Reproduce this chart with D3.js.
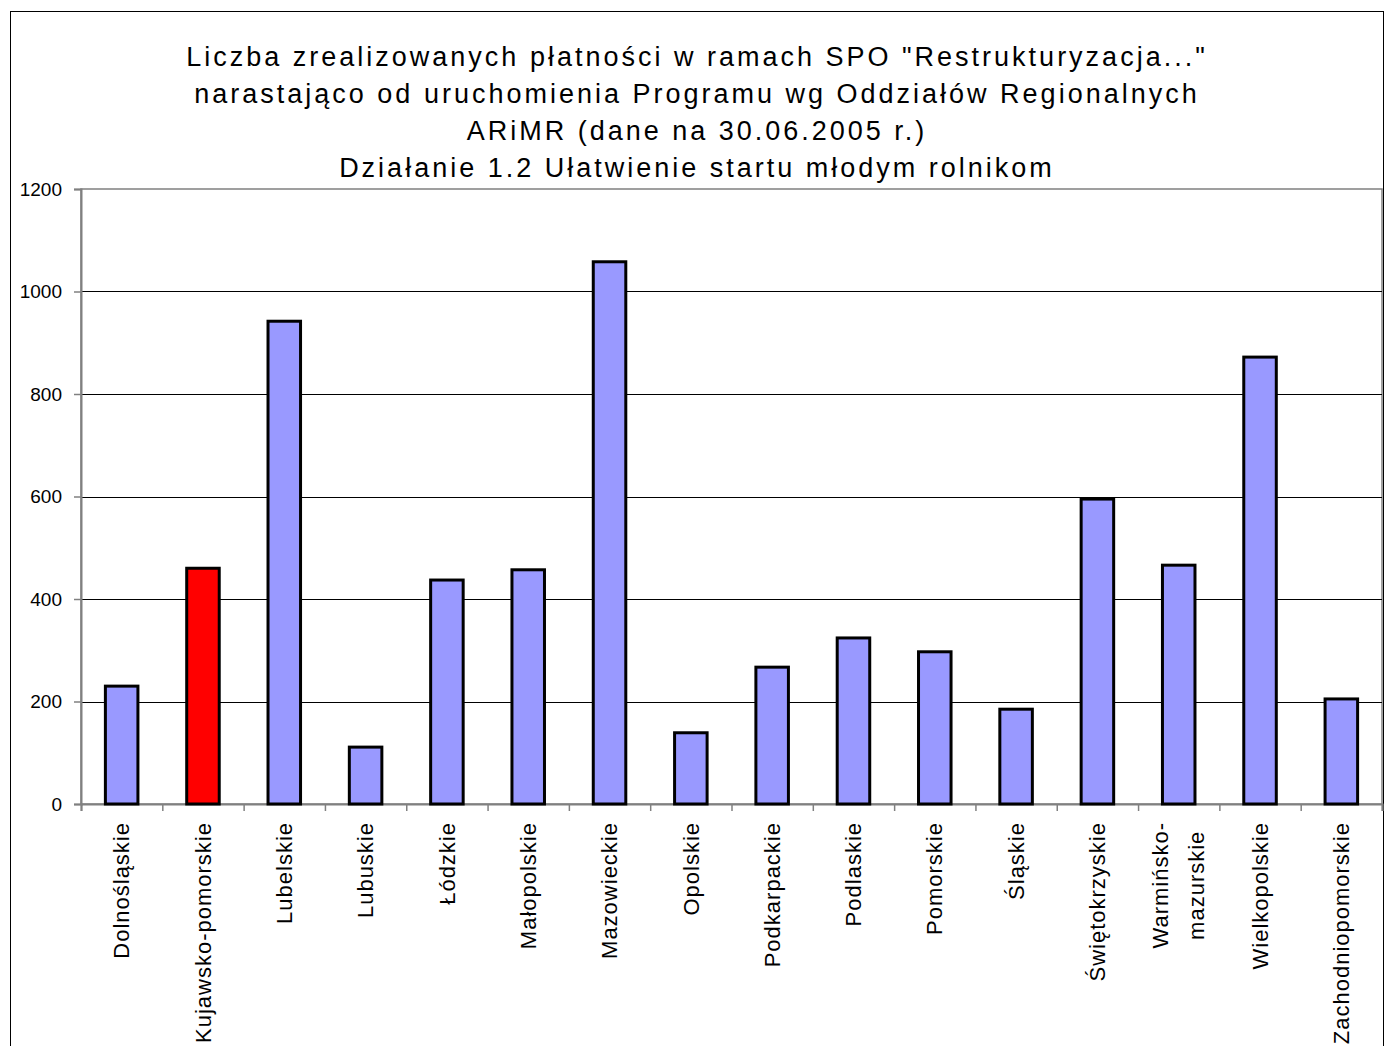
<!DOCTYPE html>
<html>
<head>
<meta charset="utf-8">
<script src="https://cdn.jsdelivr.net/npm/d3@7"></script>
<style>
    body { margin: 0; background: #fff; }
    svg text { font-family: "Liberation Sans", Arial, sans-serif; fill: #000; }
</style>
</head>
<body>
<div id="chart"></div>
<script>
//Datos
const regiony = ['Dolnośląskie', 'Kujawsko-pomorskie', 'Lubelskie', 'Lubuskie', 'Łódzkie', 'Małopolskie',
    'Mazowieckie', 'Opolskie', 'Podkarpackie', 'Podlaskie', 'Pomorskie', 'Śląskie', 'Świętokrzyskie',
    'Warmińsko-\nmazurskie', 'Wielkopolskie', 'Zachodniopomorskie'];
const platnosci = [230, 460, 942, 111, 437, 457, 1058, 139, 267, 324, 297, 185, 595, 466, 872, 205];
const yTicks = [0, 200, 400, 600, 800, 1000, 1200];
const titleLines = [
    'Liczba zrealizowanych płatności w ramach SPO "Restrukturyzacja..."',
    'narastająco od uruchomienia Programu wg Oddziałów Regionalnych',
    'ARiMR (dane na 30.06.2005 r.)',
    'Działanie 1.2 Ułatwienie startu młodym rolnikom'
];
const highlighted = 'Kujawsko-pomorskie';

const COLOR_BAR = '#9999FF', COLOR_HL = '#FF0000';

let W = 1386, H = 1046;
let margin = {top: 189, left: 81, right: 4, bottom: 242};
let width = W - margin.left - margin.right,
    height = H - margin.top - margin.bottom;

let root = d3.select('#chart').append('svg')
    .attr('width', W).attr('height', H);

//Marco exterior
root.append('rect')
    .attr('x', 10.5).attr('y', 11.5)
    .attr('width', 1373).attr('height', 1100)
    .attr('fill', 'none').attr('stroke', '#000').attr('stroke-width', 1);

//Título
root.append('g').selectAll('text')
    .data(titleLines)
    .enter().append('text')
    .attr('x', 697)
    .attr('y', function(d, i) { return 66 + i * 37; })
    .attr('text-anchor', 'middle')
    .style('font-size', '27px')
    .style('letter-spacing', '3px')
    .text(function(d) { return d; });

let svg = root.append('g')
    .attr('transform', 'translate(' + margin.left + ',' + margin.top + ')');

let x = d3.scaleBand()
    .domain(regiony)
    .range([0, width])
    .paddingInner(0.6)
    .paddingOuter(0.3);

let xTickScale = d3.scaleLinear().domain([0, regiony.length]).range([0, width]);

let y = d3.scaleLinear()
    .domain([0, 1200])
    .range([height, 0]);

//Borde del área
svg.append('rect')
    .attr('x', 0).attr('y', 0)
    .attr('width', width).attr('height', height)
    .attr('fill', 'none').attr('stroke', '#808080').attr('stroke-width', 1.5);

//Rejilla
svg.append('g')
    .selectAll('line')
    .data(yTicks.filter(function(d) { return d > 0 && d < 1200; }))
    .enter().append('line')
    .attr('x1', 0).attr('x2', width)
    .attr('y1', function(d) { return Math.round(y(d)) + 0.5; })
    .attr('y2', function(d) { return Math.round(y(d)) + 0.5; })
    .attr('stroke', '#000').attr('stroke-width', 1);

//Eje Y
let yAxis = svg.append('g')
    .call(d3.axisLeft(y).tickValues(yTicks).tickSize(7).tickPadding(12).tickFormat(d3.format('d')));
yAxis.select('.domain').attr('stroke', '#808080').attr('stroke-width', 2);
yAxis.selectAll('.tick line').attr('stroke', '#808080').attr('stroke-width', 1.5);
yAxis.selectAll('.tick text')
    .style('font-size', '19px')
    .style('font-family', '"Liberation Sans", Arial, sans-serif')
    .attr('fill', '#000');

//Eje X
let xAxis = svg.append('g')
    .attr('transform', 'translate(0,' + height + ')')
    .call(d3.axisBottom(xTickScale).ticks(regiony.length).tickSize(7).tickFormat(''));
xAxis.select('.domain').attr('stroke', '#808080').attr('stroke-width', 2);
xAxis.selectAll('.tick line').attr('stroke', '#808080').attr('stroke-width', 1.5);

//Barras
svg.append('g')
    .selectAll('rect')
    .data(regiony.map(function(r, i) { return {key: r, value: platnosci[i]}; }))
    .enter().append('rect')
    .attr('x', function(d) { return x(d.key); })
    .attr('width', x.bandwidth())
    .attr('y', function(d) { return y(d.value); })
    .attr('height', function(d) { return height - y(d.value); })
    .attr('fill', function(d) { return d.key.replace('\n', '') == highlighted ? COLOR_HL : COLOR_BAR; })
    .attr('stroke', '#000')
    .attr('stroke-width', 3);

//Etiquetas X (giradas)
let labels = svg.append('g')
    .selectAll('g')
    .data(regiony)
    .enter().append('g')
    .attr('transform', function(d) {
        return 'translate(' + (x(d) + x.bandwidth() / 2) + ',' + (height + 18) + ') rotate(-90)';
    });

labels.each(function(d) {
    let g = d3.select(this);
    let lines = d.split('\n');
    let texts = g.selectAll('text')
        .data(lines)
        .enter().append('text')
        .style('font-size', '22px')
        .style('letter-spacing', '1px')
        .attr('y', function(l, i) { return (i - (lines.length - 1) / 2) * 36; })
        .attr('dy', '0.35em')
        .text(function(l) { return l; });
    let maxLen = 0;
    texts.each(function() { maxLen = Math.max(maxLen, this.getComputedTextLength()); });
    texts.attr('text-anchor', 'middle').attr('x', -maxLen / 2);
});
</script>
</body>
</html>
